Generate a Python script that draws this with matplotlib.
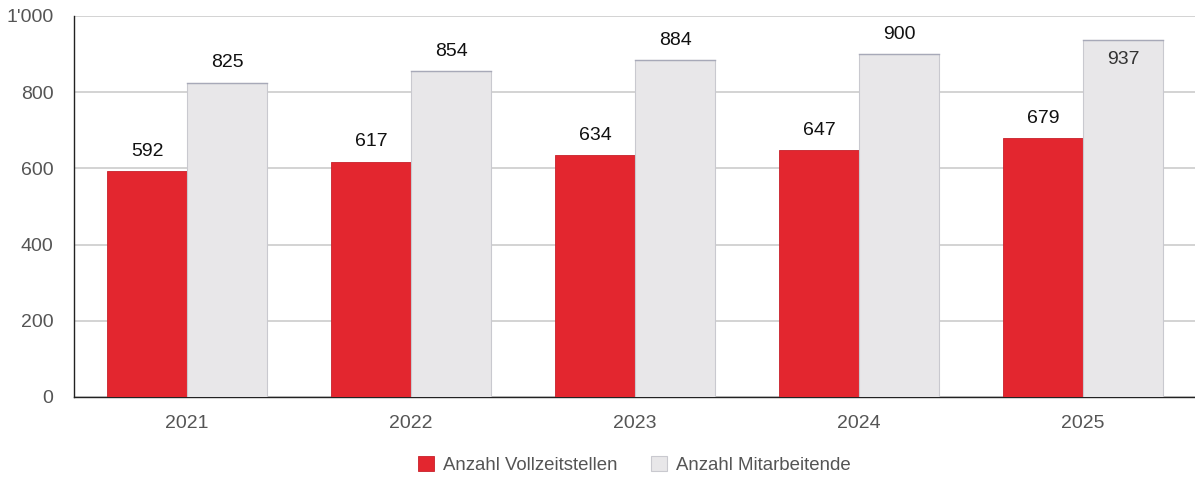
import numpy as np
import matplotlib.pyplot as plt

plt.rcParams['font.family'] = ['Liberation Sans', 'DejaVu Sans']

# Data
years = ["2021", "2022", "2023", "2024", "2025"]
vollzeitstellen = [592, 617, 634, 647, 679]
mitarbeitende = [825, 854, 884, 900, 937]
y_ticks = [0, 200, 400, 600, 800, 1000]
y_tick_labels = ["0", "200", "400", "600", "800", "1'000"]

red = "#e3262f"
grey = "#e8e7e9"
tick_color = "#555555"

fig = plt.figure(figsize=(11.95, 4.8), dpi=100)
ax = fig.add_axes([0.062, 0.173, 0.938, 0.794])

x = np.arange(len(years))
w = 0.357

bars_red = ax.bar(x - w / 2, vollzeitstellen, width=w, color=red, edgecolor="#c8202a",
                  linewidth=0.6, zorder=3, label="Anzahl Vollzeitstellen")
bars_grey = ax.bar(x + w / 2, mitarbeitende, width=w, color=grey, edgecolor="#c9c9cf",
                   linewidth=0.8, zorder=3, label="Anzahl Mitarbeitende")
# darker top edge on grey bars
for b in bars_grey:
    ax.plot([b.get_x(), b.get_x() + b.get_width()], [b.get_height()] * 2,
            color="#a7a9b8", linewidth=1.0, zorder=4)

ax.set_xlim(-0.505, 4.5)
ax.set_ylim(0, 1000)

# value labels
for b, v in zip(bars_red, vollzeitstellen):
    ax.text(b.get_x() + b.get_width() / 2, v + 30, str(v), ha="center", va="bottom",
            fontsize=14, color="#111111", zorder=5)
for b, v in zip(bars_grey, mitarbeitende):
    if v + 80 > 1000:
        ax.text(b.get_x() + b.get_width() / 2, v - 28, str(v), ha="center", va="top",
                fontsize=14, color="#333333", zorder=5)
    else:
        ax.text(b.get_x() + b.get_width() / 2, v + 30, str(v), ha="center", va="bottom",
                fontsize=14, color="#111111", zorder=5)

ax.set_yticks(y_ticks)
ax.set_yticklabels(y_tick_labels)
ax.set_xticks(x)
ax.set_xticklabels(years)
ax.tick_params(axis="both", length=0, labelsize=14, labelcolor=tick_color)
ax.tick_params(axis="y", pad=15)
ax.tick_params(axis="x", pad=13)

ax.grid(axis="y", color="#cccccc", linewidth=1.2, zorder=0)
for s in ["top", "right"]:
    ax.spines[s].set_visible(False)
ax.spines["left"].set_color("#222222")
ax.spines["bottom"].set_color("#222222")
ax.spines["left"].set_linewidth(1.0)
ax.spines["bottom"].set_linewidth(1.0)

leg = fig.legend(handles=[bars_red, bars_grey], loc="center", bbox_to_anchor=(0.531, 0.032),
                 ncol=2, frameon=False, fontsize=13.4, handlelength=0.85, handleheight=0.85,
                 columnspacing=1.8, handletextpad=0.5)
for t in leg.get_texts():
    t.set_color(tick_color)

plt.savefig("out.png", dpi=100)
plt.close()
